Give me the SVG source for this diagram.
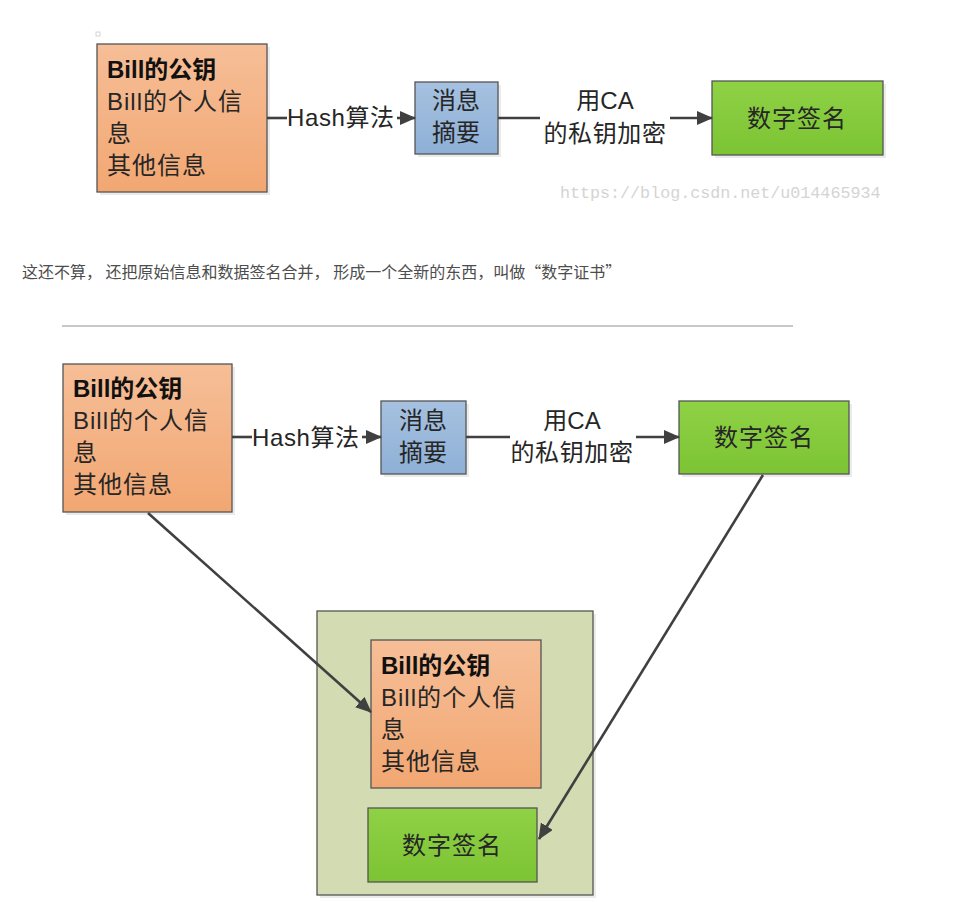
<svg xmlns="http://www.w3.org/2000/svg" width="970" height="902" viewBox="0 0 970 902">
<style>
.t{font-family:"Liberation Sans","Noto Sans CJK SC",sans-serif;font-size:24px;fill:#262626}
.ls{letter-spacing:1px}
.b{font-weight:bold;fill:#111}
.c{text-anchor:middle}
.box{stroke:#555;stroke-width:1.3}
.conn{stroke:#404040;stroke-width:2.6;fill:none}
.shadow{fill:#000;opacity:0.08}
</style>
<defs>
<linearGradient id="gOr" x1="0" y1="0" x2="0" y2="1"><stop offset="0" stop-color="#f6be97"/><stop offset="1" stop-color="#f2a772"/></linearGradient>
<linearGradient id="gBl" x1="0" y1="0" x2="0" y2="1"><stop offset="0" stop-color="#a6c1e0"/><stop offset="1" stop-color="#8eb0d6"/></linearGradient>
<linearGradient id="gGr" x1="0" y1="0" x2="0" y2="1"><stop offset="0" stop-color="#8fd145"/><stop offset="1" stop-color="#7cc434"/></linearGradient>
<marker id="ar" markerUnits="userSpaceOnUse" markerWidth="16" markerHeight="14" refX="15" refY="7" orient="auto" viewBox="0 0 16 14"><path d="M0,0 L16,7 L0,14 z" fill="#404040"/></marker>
</defs>
<rect width="970" height="902" fill="#fff"/>
<rect x="96" y="32" width="4" height="4" fill="none" stroke="#c8c8c8" stroke-width="0.8"/>

<!-- top diagram -->
<g id="top-info">
<rect class="shadow" x="100" y="47" width="170" height="148"/>
<rect class="box" x="97" y="44" width="170" height="148" fill="url(#gOr)"/>
<text class="t b" x="107" y="78">Bill的公钥</text>
<text class="t ls" x="107" y="110">Bill的个人信</text>
<text class="t ls" x="107" y="142">息</text>
<text class="t ls" x="107" y="174">其他信息</text>
</g>
<g id="top-digest">
<rect class="shadow" x="418" y="85" width="83" height="72"/>
<rect class="box" x="415" y="82" width="83" height="72" fill="url(#gBl)"/>
<text class="t c" x="456" y="109">消息</text>
<text class="t c" x="456" y="141">摘要</text>
</g>
<g id="top-sig">
<rect class="shadow" x="715" y="84" width="171" height="74"/>
<rect class="box" x="712" y="81" width="171" height="74" fill="url(#gGr)"/>
<text class="t c ls" x="797" y="127">数字签名</text>
</g>
<g id="top-connectors">
<line class="conn" x1="267" y1="118" x2="287" y2="118"/>
<line class="conn" x1="397" y1="118" x2="415" y2="118" marker-end="url(#ar)"/>
<line class="conn" x1="498" y1="118" x2="540" y2="118"/>
<line class="conn" x1="670" y1="118" x2="712" y2="118" marker-end="url(#ar)"/>
<text class="t" x="287" y="126" letter-spacing="0.6">Hash算法</text>
<text class="t c" x="605" y="109">用CA</text>
<text class="t c" x="605" y="142" letter-spacing="0.6">的私钥加密</text>
</g>
<text x="560" y="198" font-family="Liberation Mono, monospace" font-size="16.7" fill="#d4d4d4">https://blog.csdn.net/u014465934</text>

<text x="22" y="278" font-family="'Noto Sans CJK SC',sans-serif" font-size="16" fill="#4d4d4d">这还不算， 还把原始信息和数据签名合并， 形成一个全新的东西，叫做“数字证书”</text>
<line x1="62" y1="326" x2="793" y2="326" stroke="#c8c8c8" stroke-width="2"/>

<!-- bottom diagram -->
<g id="bot-info">
<rect class="shadow" x="66" y="367" width="169" height="148"/>
<rect class="box" x="63" y="364" width="169" height="148" fill="url(#gOr)"/>
<text class="t b" x="73" y="397">Bill的公钥</text>
<text class="t ls" x="73" y="429">Bill的个人信</text>
<text class="t ls" x="73" y="461">息</text>
<text class="t ls" x="73" y="493">其他信息</text>
</g>
<g id="bot-digest">
<rect class="shadow" x="384" y="404" width="85" height="73"/>
<rect class="box" x="381" y="401" width="85" height="73" fill="url(#gBl)"/>
<text class="t c" x="423" y="429">消息</text>
<text class="t c" x="423" y="461">摘要</text>
</g>
<g id="bot-sig">
<rect class="shadow" x="682" y="404" width="170" height="73"/>
<rect class="box" x="679" y="401" width="170" height="73" fill="url(#gGr)"/>
<text class="t c ls" x="764" y="446">数字签名</text>
</g>
<g id="cert">
<rect class="shadow" x="320" y="614" width="276" height="284"/>
<rect class="box" x="317" y="611" width="276" height="284" fill="#d3dbb2"/>
<g id="cert-info">
<rect class="box" x="371" y="640" width="170" height="148" fill="url(#gOr)"/>
<text class="t b" x="381" y="674">Bill的公钥</text>
<text class="t ls" x="381" y="706">Bill的个人信</text>
<text class="t ls" x="381" y="738">息</text>
<text class="t ls" x="381" y="770">其他信息</text>
</g>
<g id="cert-sig">
<rect class="box" x="368" y="808" width="169" height="74" fill="url(#gGr)"/>
<text class="t c ls" x="452" y="854">数字签名</text>
</g>
</g>
<g id="bot-connectors">
<line class="conn" x1="232" y1="437" x2="252" y2="437"/>
<line class="conn" x1="362" y1="437" x2="381" y2="437" marker-end="url(#ar)"/>
<line class="conn" x1="466" y1="437" x2="510" y2="437"/>
<line class="conn" x1="636" y1="437" x2="679" y2="437" marker-end="url(#ar)"/>
<line class="conn" x1="148" y1="513" x2="371" y2="712" marker-end="url(#ar)"/>
<line class="conn" x1="763" y1="475" x2="539" y2="839" marker-end="url(#ar)"/>
<text class="t" x="252" y="446" letter-spacing="0.6">Hash算法</text>
<text class="t c" x="572" y="429">用CA</text>
<text class="t c" x="572" y="461" letter-spacing="0.6">的私钥加密</text>
</g>
</svg>
